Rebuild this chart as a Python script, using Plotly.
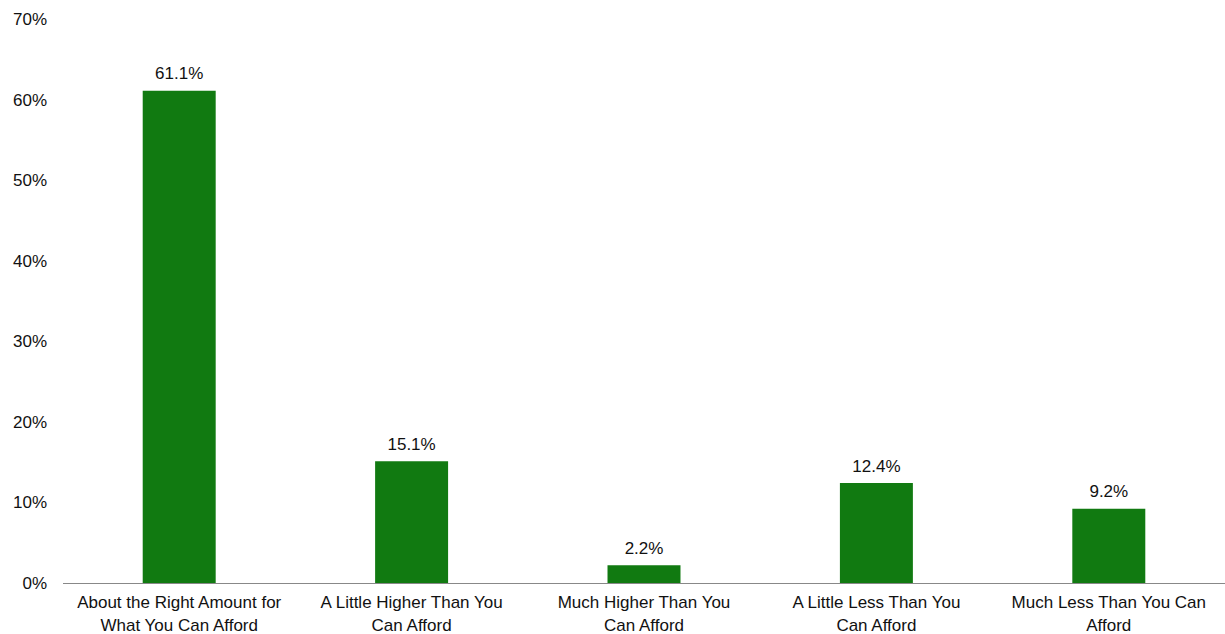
import plotly.graph_objects as go

categories = [
    "About the Right Amount for<br>What You Can Afford",
    "A Little Higher Than You<br>Can Afford",
    "Much Higher Than You<br>Can Afford",
    "A Little Less Than You<br>Can Afford",
    "Much Less Than You Can<br>Afford",
]
values = [61.1, 15.1, 2.2, 12.4, 9.2]
y_ticks = [0, 10, 20, 30, 40, 50, 60, 70]
y_tick_labels = [f"{v}%" for v in y_ticks]

bar_color = "#117A11"
font_family = "Liberation Sans, Arial, sans-serif"

fig = go.Figure()
fig.add_trace(go.Bar(
    x=categories,
    y=values,
    marker=dict(color=bar_color, line=dict(width=0)),
    width=0.314,
    hoverinfo="x+y",
))
fig.add_trace(go.Scatter(
    x=categories,
    y=values,
    mode="markers+text",
    text=[f"{v:.1f}%" for v in values],
    textposition="top center",
    marker=dict(size=10, color="rgba(0,0,0,0)"),
    textfont=dict(size=17, color="#111111", family=font_family),
    cliponaxis=False,
    hoverinfo="skip",
))

fig.update_layout(
    width=1225,
    height=634,
    margin=dict(l=63, r=0, t=19, b=51),
    paper_bgcolor="white",
    plot_bgcolor="white",
    showlegend=False,
    font=dict(family=font_family, size=17, color="#111111"),
    xaxis=dict(
        showline=True,
        linecolor="#888888",
        linewidth=1,
        showgrid=False,
        ticks="",
        ticklabelstandoff=4,
        tickfont=dict(size=17),
        automargin=False,
    ),
    yaxis=dict(
        range=[0, 70],
        tickvals=y_ticks,
        ticktext=y_tick_labels,
        showgrid=False,
        showline=False,
        zeroline=False,
        ticks="",
        ticklabelstandoff=15,
        tickfont=dict(size=17),
        automargin=False,
    ),
)

fig.write_html("out.html")
